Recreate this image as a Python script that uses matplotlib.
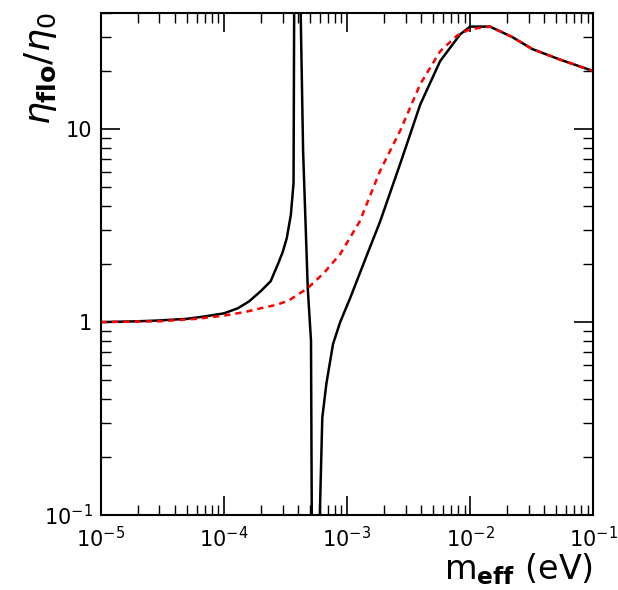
import matplotlib
matplotlib.use("Agg")
import matplotlib.pyplot as plt
from matplotlib.ticker import FixedLocator, LogLocator, NullFormatter

# black curve (three branches)
bx1 = [1e-5, 2e-5, 3e-5, 5e-5, 7e-5, 1.0e-4, 1.3e-4, 1.6e-4, 2.0e-4, 2.4e-4, 2.75e-4, 3.0e-4, 3.24e-4, 3.5e-4, 3.68e-4, 3.74e-4]
by1 = [1.0, 1.01, 1.02, 1.04, 1.07, 1.11, 1.18, 1.28, 1.45, 1.63, 2.0, 2.3, 2.72, 3.6, 5.25, 100]
bx2 = [4.1e-4, 4.4e-4, 4.8e-4, 5.1e-4, 5.2e-4]
by2 = [100, 7.7, 1.5, 0.8, 0.05]
bx3 = [5.85e-4, 6.3e-4, 6.8e-4, 7.7e-4, 8.8e-4, 1.06e-3, 1.4e-3, 1.86e-3, 2.7e-3, 3.93e-3,
       5.7e-3, 8.3e-3, 1e-2, 1.45e-2, 2.2e-2, 3.2e-2, 5.3e-2, 1e-1]
by3 = [0.05, 0.32, 0.48, 0.77, 1.0, 1.33, 2.1, 3.33, 6.6, 13.4,
       22.5, 31, 34, 34, 30, 26, 23, 20]
# red dashed curve
rx = [1e-5, 3e-5, 6e-5, 1e-4, 1.5e-4, 2e-4, 2.7e-4, 3.4e-4, 4.8e-4, 6.5e-4, 8.8e-4, 1.27e-3, 1.86e-3,
      2.7e-3, 3.93e-3, 5.7e-3, 7.8e-3, 1e-2, 1.45e-2, 2.2e-2, 3.2e-2, 5.3e-2, 1e-1]
ry = [1.0, 1.01, 1.04, 1.08, 1.13, 1.18, 1.23, 1.3, 1.5, 1.8, 2.25, 3.33, 6.1,
      9.8, 17.1, 25.3, 30.5, 33, 34, 30, 26, 23, 20]

fig = plt.figure(figsize=(6.18, 5.90), dpi=100)
ax = fig.add_axes([0.163, 0.127, 0.797, 0.851])
for x, y in [(bx1, by1), (bx2, by2), (bx3, by3)]:
    ax.plot(x, y, color="black", lw=1.8)
ax.plot(rx, ry, color="red", lw=1.8, ls=(0, (2.5, 2)))
ax.set_xscale("log"); ax.set_yscale("log")
ax.set_xlim(1e-5, 1e-1); ax.set_ylim(0.1, 40)
ax.xaxis.set_major_locator(FixedLocator([1e-5, 1e-4, 1e-3, 1e-2, 1e-1]))
ax.set_xticklabels([r"$10^{-5}$", r"$10^{-4}$", r"$10^{-3}$", r"$10^{-2}$", r"$10^{-1}$"])
ax.yaxis.set_major_locator(FixedLocator([0.1, 1, 10]))
ax.set_yticklabels([r"$10^{-1}$", "1", "10"])
ax.xaxis.set_minor_locator(LogLocator(subs=range(2, 10), numticks=20))
ax.yaxis.set_minor_locator(LogLocator(subs=range(2, 10), numticks=20))
ax.xaxis.set_minor_formatter(NullFormatter()); ax.yaxis.set_minor_formatter(NullFormatter())
ax.tick_params(which="both", direction="in", top=True, right=True, labelsize=15)
ax.tick_params(axis="x", pad=8)
ax.tick_params(axis="y", pad=6)
ax.tick_params(which="major", length=14, width=1.2)
ax.tick_params(which="minor", length=7, width=1)
for s in ax.spines.values():
    s.set_linewidth(1.5)
fig.text(0.96, 0.005, r"m$_{\mathbf{eff}}$ (eV)", ha="right", va="bottom", fontsize=24)
fig.text(0.035, 0.978, r"$\eta_{\mathbf{flo}}/\eta_0$", ha="left", va="top", rotation=90, fontsize=26)
fig.savefig("out.png")
